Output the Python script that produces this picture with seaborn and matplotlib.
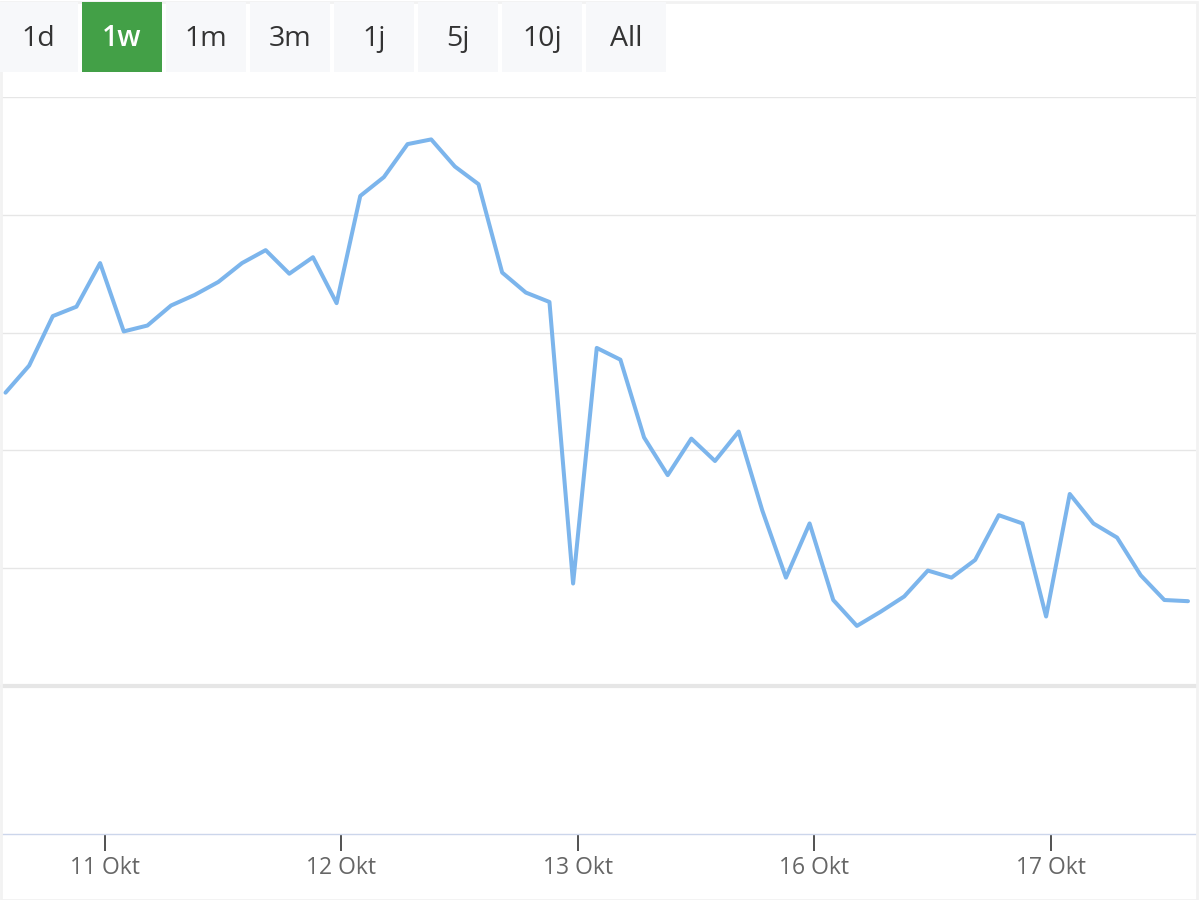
import numpy as np
import pandas as pd
import matplotlib
matplotlib.use("Agg")
import matplotlib.pyplot as plt
from matplotlib.patches import Rectangle
import seaborn as sns

# ---------------- data ----------------
prices = [26.49, 26.72, 27.14, 27.22, 27.59, 27.01, 27.06, 27.23, 27.32, 27.43,
          27.59, 27.70, 27.50, 27.64, 27.25, 28.16, 28.32, 28.60, 28.64, 28.41,
          28.26, 27.51, 27.34, 27.26, 24.87, 26.87, 26.77, 26.11, 25.79, 26.10,
          25.91, 26.16, 25.49, 24.92, 25.38, 24.73, 24.51, 24.63, 24.76, 24.98,
          24.92, 25.07, 25.45, 25.38, 24.59, 25.63, 25.38, 25.26, 24.94, 24.73,
          24.72]
tick_labels = ["11 Okt", "12 Okt", "13 Okt", "16 Okt", "17 Okt"]
tick_positions = [4.2, 14.2, 24.2, 34.2, 44.2]
buttons = ["1d", "1w", "1m", "3m", "1j", "5j", "10j", "All"]
selected_button = "1w"
grid_values = [25, 26, 27, 28, 29]

df = pd.DataFrame({"idx": np.arange(len(prices)), "price": prices})

# ---------------- style ----------------
sns.set_theme(style="white")
plt.rcParams["font.family"] = ["Open Sans", "DejaVu Sans"]

W, H = 1200, 900
fig = plt.figure(figsize=(12, 9), dpi=100)
fig.patch.set_facecolor("white")

def fx(px):
    return px / W

def fy(py):
    return 1 - py / H

# outer light border
fig.patches.append(Rectangle((0.5 / W, 0.5 / H), 1 - 3.5 / W, 1 - 2.5 / H,
                             transform=fig.transFigure, fill=False,
                             edgecolor="#f2f2f2", linewidth=2.0, zorder=0))

# ---------------- range buttons ----------------
for i, b in enumerate(buttons):
    x0 = -2 + 84 * i
    sel = (b == selected_button)
    fig.patches.append(Rectangle((fx(x0), fy(72)), 80 / W, 70 / H,
                                 transform=fig.transFigure,
                                 facecolor="#43a047" if sel else "#f7f8fa",
                                 edgecolor="none", zorder=1))
    fig.text(fx(x0 + 40), fy(39), b, ha="center", va="center",
             fontsize=20.5, color="white" if sel else "#333333",
             fontweight="semibold" if sel else "normal", zorder=2)

# ---------------- axes ----------------
left_px, right_px = 2, 1196
x_first_px, x_last_px = 5.5, 1188
n = len(prices)
step = (x_last_px - x_first_px) / (n - 1)
xlim = (-(x_first_px - left_px) / step, (n - 1) + (right_px - x_last_px) / step)

ax = fig.add_axes([fx(left_px), fy(686), (right_px - left_px) / W, (686 - 97) / H])
ax2 = fig.add_axes([fx(left_px), fy(834), (right_px - left_px) / W, (834 - 686) / H],
                   sharex=ax)

for g in grid_values:
    ax.axhline(g, color="#e6e6e6", linewidth=1.0, zorder=0)
ax.axhline(24, color="#e6e6e6", linewidth=3.0, zorder=0, clip_on=False)

sns.lineplot(data=df, x="idx", y="price", ax=ax, color="#7cb5ec",
             linewidth=2.9, zorder=3)
ax.set_xlim(*xlim)
ax.set_ylim(24, 29)
ax.set_xlabel("")
ax.set_ylabel("")
ax.set_yticks([])
ax.tick_params(axis="x", which="both", bottom=False, labelbottom=False)
for s in ax.spines.values():
    s.set_visible(False)
ax.set_facecolor("none")

# lower (empty) pane with the date axis
ax2.set_facecolor("none")
ax2.set_yticks([])
for k, s in ax2.spines.items():
    s.set_visible(k == "bottom")
ax2.spines["bottom"].set_color("#ccd6eb")
ax2.spines["bottom"].set_linewidth(1.0)
ax2.set_xticks(tick_positions)
ax2.set_xticklabels(tick_labels)
ax2.tick_params(axis="x", direction="out", length=12.5, width=1.2,
                color="#333333", labelcolor="#666666", labelsize=16.5, pad=3.5,
                bottom=True)
ax2.set_xlim(*xlim)

fig.savefig("out.png", dpi=100, facecolor="white")
